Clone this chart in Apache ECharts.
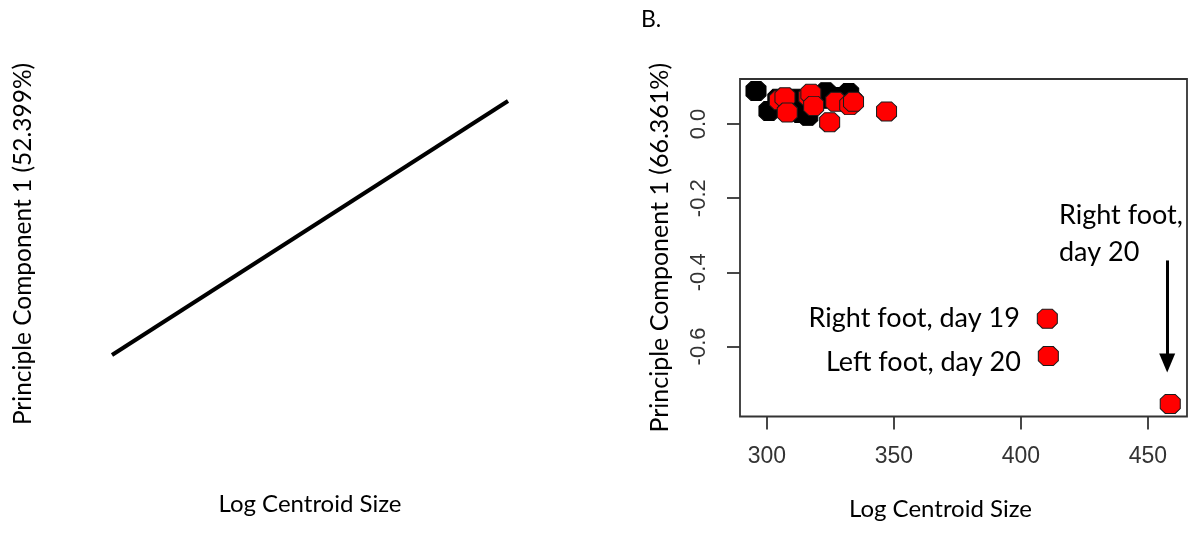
<!DOCTYPE html>
<html>
<head>
<meta charset="utf-8">
<script src="https://cdn.jsdelivr.net/npm/echarts@6/dist/echarts.min.js"></script>
<style>html,body{margin:0;padding:0;background:#fff;}#c{width:1196px;height:535px;}</style>
</head>
<body>
<div id="c"></div>
<script>
// ---- Panel A (left): fitted line only, no scale shown ----
const leftLineX = [0, 1];
const leftLineY = [0, 1];
const leftXTitle = 'Log Centroid Size';
const leftYTitle = 'Principle Component 1 (52.399%)';

// ---- Panel B (right): scatter ----
const panelLabel = 'B.';
const xTicks = [300, 350, 400, 450];
const yTicks = [0, -0.2, -0.4, -0.6];
const rightXTitle = 'Log Centroid Size';
const rightYTitle = 'Principle Component 1 (66.361%)';

// black group
const blackX = [295.7, 300.8, 304.3, 311.0, 313.0, 316.1, 321.6, 323.2, 326.7, 332.2, 333.4, 309.0, 318.4];
const blackY = [0.089, 0.035, 0.068, 0.068, 0.030, 0.022, 0.068, 0.086, 0.073, 0.084, 0.065, 0.038, 0.057];
// red group
const redX = [304.9, 307.1, 308.0, 316.5, 317.3, 318.4, 327.1, 332.6, 334.1, 324.7, 347.1, 410.4, 410.8, 458.8];
const redY = [0.064, 0.072, 0.031, 0.074, 0.082, 0.049, 0.060, 0.051, 0.060, 0.005, 0.034, -0.525, -0.626, -0.755];
// labels attached to red points (index -> text)
const redLabels = {11: 'Right foot, day 19', 12: 'Left foot, day 20'};
// callout text for the outlier and its arrow (data units)
const calloutText = ['Right foot,', 'day 20'];
const calloutAnchor = [415.0, -0.197];
const arrowFrom = [457.6, -0.368];
const arrowTo = [457.6, -0.645];

const octagon = 'path://M25,0 L75,0 L100,25 L100,75 L75,100 L25,100 L0,75 L0,25 Z';
const tickFont = 'Liberation Sans';
const textFont = 'Lato';

const chart = echarts.init(document.getElementById('c'), null, {renderer: 'canvas'});

const redData = redX.map((x, i) => {
  const item = {value: [x, redY[i]]};
  if (redLabels[i]) {
    item.label = {
      show: true, formatter: redLabels[i], position: 'left', distance: 17,
      fontFamily: textFont, fontSize: 27, color: '#000',
      offset: [0, i === 12 ? 6 : 0]
    };
  }
  return item;
});

const option = {
  animation: false,
  backgroundColor: '#ffffff',
  title: {
    text: panelLabel, left: 641, top: 8, padding: 0,
    textStyle: {fontFamily: textFont, fontSize: 23, fontWeight: 'normal', color: '#000'}
  },
  grid: [
    {left: 112, top: 63, width: 396, height: 362, show: false},
    {left: 740, top: 79, width: 447, height: 337.5, show: true,
     borderColor: '#333', borderWidth: 1.8, backgroundColor: 'transparent'}
  ],
  xAxis: [
    {
      gridIndex: 0, type: 'value', min: 0, max: 1,
      axisLine: {show: false, onZero: false}, axisTick: {show: false}, axisLabel: {show: false}, splitLine: {show: false},
      name: leftXTitle, nameLocation: 'middle', nameGap: 67,
      nameTextStyle: {fontFamily: textFont, fontSize: 24, color: '#000'}
    },
    {
      gridIndex: 1, type: 'value', min: 289.4, max: 465.4,
      axisLine: {show: false, onZero: false},
      axisTick: {show: true, length: 13, customValues: xTicks, lineStyle: {color: '#333', width: 1.8}},
      axisLabel: {show: true, customValues: xTicks, margin: 29, fontFamily: tickFont, fontSize: 23, color: '#333'},
      splitLine: {show: false},
      name: rightXTitle, nameLocation: 'middle', nameGap: 81,
      nameTextStyle: {fontFamily: textFont, fontSize: 24, color: '#000', padding: [0, 46, 0, 0]}
    }
  ],
  yAxis: [
    {
      gridIndex: 0, type: 'value', min: -0.2756, max: 1.1496,
      axisLine: {show: false, onZero: false}, axisTick: {show: false}, axisLabel: {show: false}, splitLine: {show: false},
      name: leftYTitle, nameLocation: 'middle', nameGap: 76,
      nameTextStyle: {fontFamily: textFont, fontSize: 24.5, color: '#000'}
    },
    {
      gridIndex: 1, type: 'value', min: -0.789, max: 0.1215,
      axisLine: {show: false, onZero: false},
      axisTick: {show: true, length: 13, customValues: yTicks, lineStyle: {color: '#333', width: 1.8}},
      axisLabel: {show: true, customValues: yTicks, rotate: 90, margin: 30,
        formatter: v => v.toFixed(1), fontFamily: tickFont, fontSize: 22, color: '#333'},
      splitLine: {show: false},
      name: rightYTitle, nameLocation: 'middle', nameGap: 68,
      nameTextStyle: {fontFamily: textFont, fontSize: 25, color: '#000'}
    }
  ],
  series: [
    {
      name: 'Panel A line', type: 'line', xAxisIndex: 0, yAxisIndex: 0,
      data: leftLineX.map((x, i) => [x, leftLineY[i]]),
      showSymbol: false, symbol: 'none',
      lineStyle: {color: '#000', width: 4}
    },
    {
      name: 'Black group', type: 'scatter', xAxisIndex: 1, yAxisIndex: 1,
      data: blackX.map((x, i) => [x, blackY[i]]),
      symbol: octagon, symbolSize: [20, 19],
      itemStyle: {color: '#000', borderColor: '#000', borderWidth: 1, opacity: 1}
    },
    {
      name: 'Red group', type: 'scatter', xAxisIndex: 1, yAxisIndex: 1,
      data: redData,
      symbol: octagon, symbolSize: [20, 19],
      itemStyle: {color: '#ff0000', borderColor: '#1a1a1a', borderWidth: 1, opacity: 1},
      markLine: {
        silent: true, animation: false,
        symbol: ['none', 'triangle'], symbolSize: [16, 19],
        label: {show: false},
        lineStyle: {color: '#000', width: 3, type: 'solid'},
        data: [[{coord: arrowFrom}, {coord: arrowTo}]]
      },
      markPoint: {
        silent: true, animation: false,
        data: [{
          coord: calloutAnchor, symbol: 'circle', symbolSize: 0,
          itemStyle: {color: 'transparent'},
          label: {
            show: true, position: 'inside', align: 'left', verticalAlign: 'top',
            formatter: calloutText.join('\n'), lineHeight: 37,
            fontFamily: textFont, fontSize: 27, color: '#000', opacity: 1
          }
        }]
      }
    }
  ]
};
chart.setOption(option);
</script>
</body>
</html>
